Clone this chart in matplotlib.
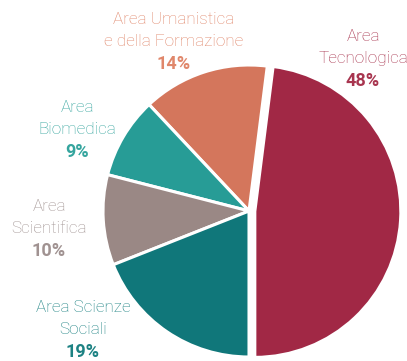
import matplotlib
matplotlib.use("Agg")
import matplotlib.pyplot as plt

# share of each area, in pie order (counter-clockwise from the bottom)
areas = ["Area\nTecnologica", "Area Umanistica\ne della Formazione", "Area\nBiomedica",
         "Area\nScientifica", "Area Scienze\nSociali"]
shares = [48, 14, 9, 10, 19]
wedge_colors = ["#a12845", "#d4765c", "#279c96", "#9a8885", "#10777a"]
text_colors = ["#a8354f", "#e0876b", "#35a59e", "#a09291", "#1d8283"]

# label anchor (pixel x, pixel y of first line)
label_px = [(363, 37), (174, 20), (77, 108), (49, 207), (83, 308)]

W, H = 407, 361
cx, cy, R = 249, 211, 146

fig = plt.figure(figsize=(W / 100, H / 100), dpi=100)
ax = fig.add_axes([0, 0, 1, 1])

ax.pie(shares, colors=wedge_colors, startangle=-90, counterclock=True,
       explode=[0.04, 0, 0, 0, 0],
       wedgeprops=dict(edgecolor="white", linewidth=2.2))

ax.set_xlim(-cx / R, (W - cx) / R)
ax.set_ylim(-(H - cy) / R, cy / R)
ax.set_aspect("auto")
ax.axis("off")

def to_data(px, py):
    return (px - cx) / R, (cy - py) / R

step = 21.7
for name, v, col, (px, py) in zip(areas, shares, text_colors, label_px):
    lines = name.split("\n")
    for i, line in enumerate(lines):
        x, y = to_data(px, py + i * step)
        ax.text(x, y, line, color=col, fontsize=12.3, family="Roboto",
                fontweight="light", ha="center", va="center")
    x, y = to_data(px, py + len(lines) * step + 0.5)
    ax.text(x, y, f"{v}%", color=col, fontsize=13, family="Roboto",
            fontweight="bold", ha="center", va="center")

fig.savefig("out.png", dpi=100)
